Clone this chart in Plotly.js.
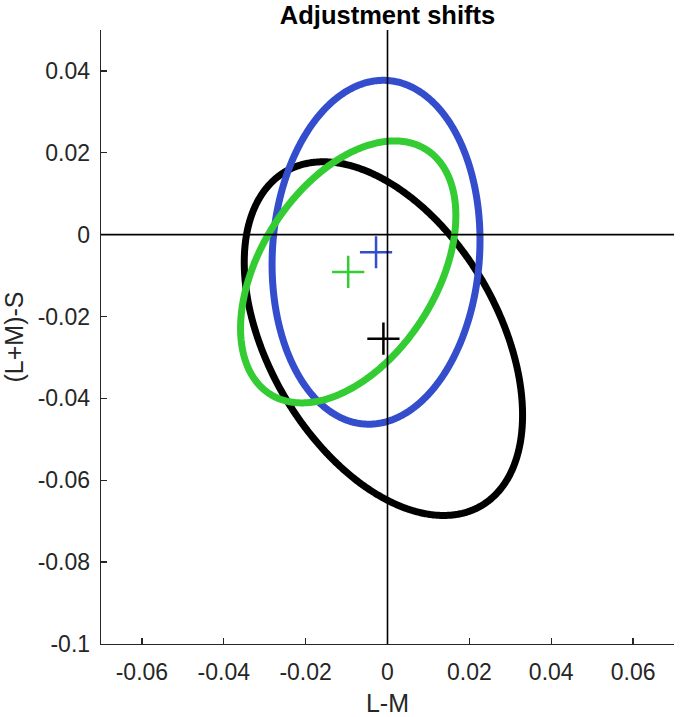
<!DOCTYPE html>
<html>
<head>
<meta charset="utf-8">
<script src="https://cdn.plot.ly/plotly-3.0.1.min.js"></script>
<style>html,body{margin:0;padding:0;background:#fff;}#chart{width:680px;height:717px;}</style>
</head>
<body>
<div id="chart"></div>
<script>
// Ellipse groups (drawing order)
const groupNames = ['black', 'blue', 'green'];
const groupColors = ['#000000', '#334DCC', '#33CC33'];
// Ellipse centres (also the "+" markers)
const centerX = [-0.0010, -0.0028, -0.0096];
const centerY = [-0.0254, -0.0043, -0.0091];
// Half extents of each ellipse along x and y, and x-y correlation (tilt)
const halfExtentX = [0.0340, 0.0254, 0.0263];
const halfExtentY = [0.0432, 0.0420, 0.0320];
const correlation = [-0.432, 0.07, 0.43];

// Axis ticks
const xTickVals = [-0.06, -0.04, -0.02, 0, 0.02, 0.04, 0.06];
const xTickText = ['-0.06', '-0.04', '-0.02', '0', '0.02', '0.04', '0.06'];
const yTickVals = [-0.1, -0.08, -0.06, -0.04, -0.02, 0, 0.02, 0.04];
const yTickText = ['-0.1', '-0.08', '-0.06', '-0.04', '-0.02', '0', '0.02', '0.04'];

const N = 720;
const traces = [];
for (let g = 0; g < groupNames.length; g++) {
  const xs = [], ys = [];
  const sx = halfExtentX[g], sy = halfExtentY[g], r = correlation[g];
  const k = Math.sqrt(1 - r * r);
  for (let i = 0; i <= N; i++) {
    const t = 2 * Math.PI * i / N;
    const c = Math.cos(t), s = Math.sin(t);
    xs.push(centerX[g] + sx * c);
    ys.push(centerY[g] + sy * (r * c + k * s));
  }
  traces.push({
    type: 'scatter', mode: 'lines', x: xs, y: ys,
    line: {color: groupColors[g], width: 7, simplify: false},
    hoverinfo: 'skip', showlegend: false
  });
}
for (let g = 0; g < groupNames.length; g++) {
  traces.push({
    type: 'scatter', mode: 'markers', x: [centerX[g]], y: [centerY[g]],
    marker: {symbol: 'cross-thin', size: 23, color: groupColors[g],
             line: {color: groupColors[g], width: 2.5}},
    hoverinfo: 'skip', showlegend: false
  });
}

const fam = 'Liberation Sans, Arial, sans-serif';
const axisFont = {family: fam, size: 23, color: '#262626'};
const layout = {
  width: 680, height: 717,
  margin: {l: 101, r: 6, t: 30, b: 73},
  paper_bgcolor: '#ffffff', plot_bgcolor: '#ffffff',
  showlegend: false,
  title: {
    text: '<b>Adjustment shifts</b>',
    font: {family: fam, size: 25.5, color: '#000000'},
    x: 0.5, xref: 'paper', xanchor: 'center',
    y: 1 - 15 / 717, yref: 'container', yanchor: 'middle'
  },
  xaxis: {
    range: [-0.07, 0.07], tickmode: 'array', tickvals: xTickVals, ticktext: xTickText,
    ticks: 'inside', ticklen: 6, tickwidth: 1.3, tickcolor: '#262626',
    showline: true, linecolor: '#262626', linewidth: 1.3, mirror: false,
    showgrid: false, zeroline: false, tickfont: axisFont,
    ticklabelstandoff: 7,
    title: {text: 'L-M', font: {family: fam, size: 25, color: '#262626'}, standoff: 11}
  },
  yaxis: {
    range: [-0.1, 0.05], tickmode: 'array', tickvals: yTickVals, ticktext: yTickText,
    ticks: 'inside', ticklen: 6, tickwidth: 1.3, tickcolor: '#262626',
    showline: true, linecolor: '#262626', linewidth: 1.3, mirror: false,
    showgrid: false, zeroline: false, tickfont: axisFont,
    ticklabelstandoff: 5,
    title: {text: '(L+M)-S', font: {family: fam, size: 25, color: '#262626'}, standoff: 13}
  },
  shapes: [
    {type: 'line', xref: 'x', yref: 'paper', x0: 0, x1: 0, y0: 0, y1: 1, layer: 'above',
     line: {color: '#000000', width: 1.6}},
    {type: 'line', xref: 'paper', yref: 'y', x0: 0, x1: 1, y0: 0, y1: 0, layer: 'above',
     line: {color: '#000000', width: 1.6}}
  ]
};

Plotly.newPlot('chart', traces, layout, {staticPlot: true, displayModeBar: false});
</script>
</body>
</html>
